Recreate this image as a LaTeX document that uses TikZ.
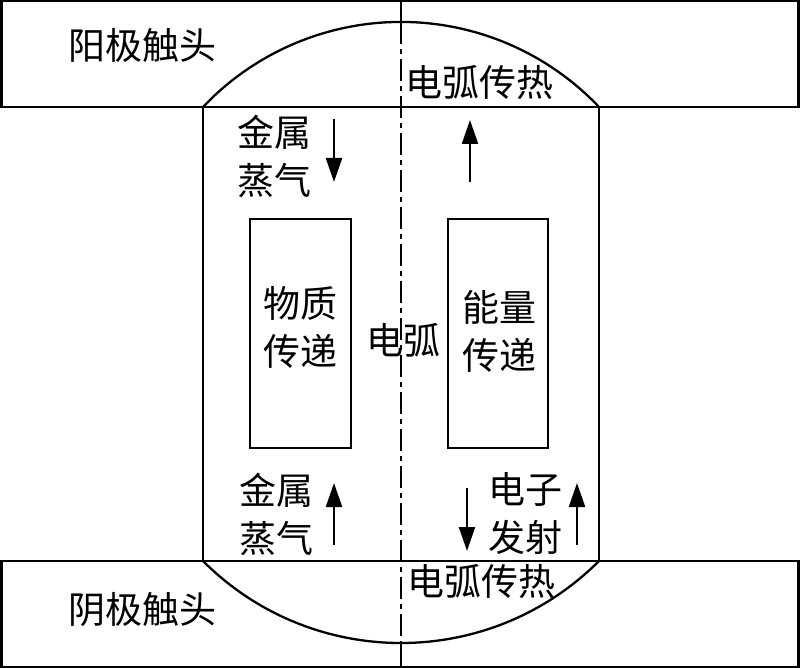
\documentclass[tikz,border=0pt]{standalone}
\usepackage{fontspec}
\setmainfont{Noto Sans CJK SC}
\usetikzlibrary{arrows.meta}
\begin{document}
\begin{tikzpicture}[x=1pt,y=-1pt,
  ln/.style={line width=2.3pt},
  arr/.style={line width=2.3pt,-{Triangle[length=24pt,width=16pt]}},
  lbl/.style={inner sep=0pt,align=center,font=\fontsize{37}{48}\selectfont},
  dashdot/.style={line width=2.3pt,dash pattern=on 22pt off 5pt on 5pt off 5pt}]
\useasboundingbox (0,0) rectangle (800,668);
\fill[white] (0,0) rectangle (800,668);
% contacts
\node[ln,draw,minimum width=797pt,minimum height=106pt,inner sep=0pt] (anode) at (400,54) {};
\node[ln,draw,minimum width=797pt,minimum height=106pt,inner sep=0pt] (cathode) at (400,614) {};
% arc column
\draw[ln] (203,107) arc[start angle=136.5,end angle=43.5,radius=273pt];
\draw[ln] (203,561) arc[start angle=225,end angle=315,radius=280pt];
\draw[ln] (203,107) -- (203,561);
\draw[ln] (599,107) -- (599,561);
% axis
\coordinate (t0) at (401,1);
\coordinate (t1) at (401,22);
\coordinate (b1) at (401,643);
\coordinate (b0) at (401,667);
\draw[ln] (t0) -- (t1);
\draw[dashdot] (t1) -- (b1);
\draw[ln] (b1) -- (b0);
% boxes
\node[ln,draw,minimum width=101pt,minimum height=229pt,inner sep=0pt] (mbox) at (300.5,333.5) {};
\node[ln,draw,minimum width=100pt,minimum height=229pt,inner sep=0pt] (ebox) at (498,333.5) {};
\node[lbl] (mtext) at (300,327) {物质\\传递};
\node[lbl] (etext) at (499,331) {能量\\传递};
\node[lbl] (arc) at (403,340) {电弧};
% labels
\node[lbl] (an) at (142,45) {阳极触头};
\node[lbl] (ca) at (142,610) {阴极触头};
\node[lbl] (ht) at (479,82) {电弧传热};
\node[lbl] (hb) at (481,581) {电弧传热};
\node[lbl] (mv1) at (274,156) {金属\\蒸气};
\node[lbl] (mv2) at (276,514) {金属\\蒸气};
\node[lbl] (ee) at (525,514) {电子\\发射};
% arrows
\coordinate (a1s) at (334,119); \coordinate (a1e) at (334,182);
\coordinate (a2s) at (470,182); \coordinate (a2e) at (470,120);
\coordinate (a3s) at (334,545); \coordinate (a3e) at (334,483);
\coordinate (a4s) at (467,488); \coordinate (a4e) at (467,551);
\coordinate (a5s) at (577,545); \coordinate (a5e) at (577,483);
\draw[arr] (a1s) -- (a1e);
\draw[arr] (a2s) -- (a2e);
\draw[arr] (a3s) -- (a3e);
\draw[arr] (a4s) -- (a4e);
\draw[arr] (a5s) -- (a5e);
\end{tikzpicture}
\end{document}
